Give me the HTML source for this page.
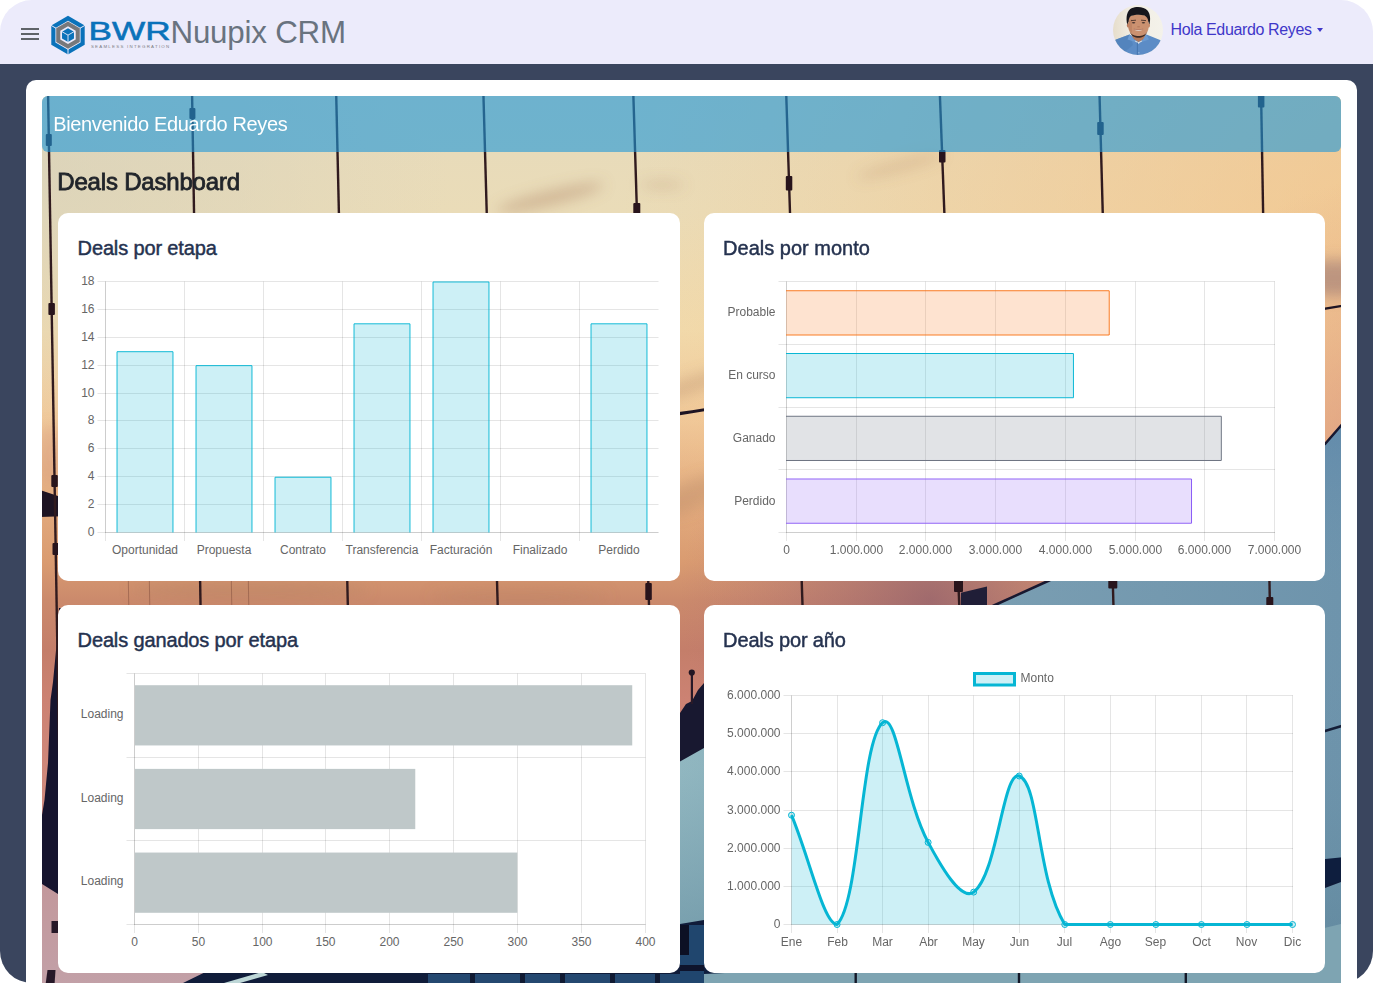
<!DOCTYPE html><html lang="es"><head><meta charset="utf-8"><title>Nuupix CRM</title><style>

*{box-sizing:border-box}
html,body{margin:0;padding:0;background:#fff}
body{width:1373px;height:983px;overflow:hidden;font-family:"Liberation Sans",Arial,sans-serif}
#app{position:absolute;left:0;top:0;width:1373px;height:983px;overflow:hidden;background:#fff}
#dark{position:absolute;left:0;top:40px;width:1373px;height:943px;border-radius:0 0 32px 32px;background:#3a455e}
#hdr{position:absolute;left:0;top:0;width:1373px;height:64px;background:#ecebfb;border-radius:32px 32px 0 0}
#menu{position:absolute;left:18px;top:22px;width:24px;height:24px}
#logo{position:absolute;left:44px;top:10px;width:140px;height:50px}
#brand{position:absolute;left:170.5px;top:8.7px;height:48px;line-height:48px;font-size:31.3px;color:#69737f;white-space:nowrap;letter-spacing:-0.2px}
#avatar{position:absolute;left:1113px;top:5px;width:50px;height:50px}
#user{position:absolute;left:1170.5px;top:20px;height:20px;line-height:20px;font-size:16px;color:#3f37c9;white-space:nowrap;letter-spacing:-0.36px}
#caret{position:absolute;left:1317px;top:27.6px;width:0;height:0;border-left:3.9px solid transparent;border-right:3.9px solid transparent;border-top:4.2px solid #3f37c9}
#wrap{position:absolute;left:26px;top:80px;width:1331px;height:960px;background:#fff;border-radius:10px}
#photo{position:absolute;left:16px;top:16px;width:1299px;height:900px;overflow:hidden;border-radius:6px 6px 0 0;background:#e9d9b4}
#photo svg.bg{position:absolute;left:-4px;top:-4px;filter:blur(.45px)}
#banner{position:absolute;left:0;top:0;width:1299px;height:56px;background:rgba(30,152,218,.6);border-radius:0 0 6px 6px}
#banner span{position:absolute;left:11.2px;top:14px;line-height:28px;font-size:20px;color:#fff;white-space:nowrap;letter-spacing:-0.34px}
#h1{position:absolute;left:15.3px;top:69.2px;line-height:34px;font-size:24px;color:#20242a;white-space:nowrap;-webkit-text-stroke:.8px #20242a;letter-spacing:-.19px}
.card{position:absolute;width:621.5px;height:368px;background:#fff;border-radius:10px}
.card h2{position:absolute;left:19.6px;top:22px;margin:0;line-height:26px;font-size:20px;font-weight:400;color:#25324f;white-space:nowrap;-webkit-text-stroke:.45px #25324f;letter-spacing:-.14px}
.card svg{position:absolute;left:0;top:0}
svg text{font-family:"Liberation Sans",Arial,sans-serif}

</style></head><body><div id="app"><div id="dark"></div>

<div id="hdr">
 <svg id="menu" viewBox="0 0 24 24"><path d="M3 6h18v2H3zM3 11h18v2H3zM3 16h18v2H3z" fill="#5f6368"/></svg>
 <svg id="logo" viewBox="0 0 140 50"><polygon points="24.00,5.85 40.71,15.50 40.71,34.80 24.00,44.45 7.29,34.80 7.29,15.50" fill="#0a72ba"/><polygon points="24.00,10.65 36.56,17.90 36.56,32.40 24.00,39.65 11.44,32.40 11.44,17.90" fill="#ecebfb"/><line x1="12.74" y1="18.65" x2="6.68" y2="15.15" stroke="#ecebfb" stroke-width="1"/><line x1="35.26" y1="18.65" x2="41.32" y2="15.15" stroke="#ecebfb" stroke-width="1"/><line x1="24.00" y1="38.15" x2="24.00" y2="45.15" stroke="#ecebfb" stroke-width="1"/><polygon points="24.00,11.55 35.78,18.35 35.78,31.95 24.00,38.75 12.22,31.95 12.22,18.35" fill="#77787b"/><polygon points="24.00,16.25 31.71,20.70 31.71,29.60 24.00,34.05 16.29,29.60 16.29,20.70" fill="#ecebfb"/><polygon points="24.00,18.25 29.98,21.70 29.98,28.60 24.00,32.05 18.02,28.60 18.02,21.70" fill="#0a72ba"/><line x1="24.00" y1="25.15" x2="17.85" y2="21.60" stroke="#ecebfb" stroke-width=".9"/><line x1="24.00" y1="25.15" x2="30.15" y2="21.60" stroke="#ecebfb" stroke-width=".9"/><line x1="24.00" y1="25.15" x2="24.00" y2="32.25" stroke="#ecebfb" stroke-width=".9"/><text x="44.6" y="30.1" font-size="26" textLength="82" lengthAdjust="spacingAndGlyphs" fill="#0a72ba" stroke="#0a72ba" stroke-width=".55" style="font-family:'Liberation Sans',Arial,sans-serif">BWR</text><text x="46.9" y="38.4" font-size="4.4" textLength="78.3" lengthAdjust="spacing" fill="#7d7e84" style="font-family:'Liberation Sans',Arial,sans-serif">SEAMLESS INTEGRATION</text></svg>
 <div id="brand">Nuupix CRM</div>
 <svg id="avatar" viewBox="0 0 50 50"><defs><clipPath id="avc"><circle cx="25" cy="25" r="25"/></clipPath><linearGradient id="avbg" x1="0" x2="1" y1="0" y2="0"><stop offset="0" stop-color="#e6ddcb"/><stop offset=".35" stop-color="#f1ede3"/><stop offset="1" stop-color="#f4f2ea"/></linearGradient><filter id="avb" x="-10%" y="-10%" width="120%" height="120%"><feGaussianBlur stdDeviation=".55"/></filter></defs><g clip-path="url(#avc)"><rect width="50" height="50" fill="url(#avbg)"/><g filter="url(#avb)"><path d="M-2,38 L3,34.5 L16.5,29.5 L25,35 L33.5,29.5 L47,35 L52,39 L52,52 L-2,52Z" fill="#5b8cc6"/><path d="M3,34.5 L16.5,29.5 L20,40 L8,50 L-2,52 L-2,38Z" fill="#4f7fb8" opacity=".6"/><path d="M18.5,26 L32.5,26 L32,33.5 L25.5,37 L19,33Z" fill="#b47a5c"/><path d="M21.5,35.3 L25.5,37.3 L29.5,35.3 L29,36.6 L25.5,38.3 L22,36.6Z" fill="#efeae2"/><path d="M16.5,29.5 L14.5,34.5 L22.5,37 L19,31Z" fill="#6c9bd2"/><path d="M33.5,29.5 L36,34.5 L28.5,37 L32,31Z" fill="#6c9bd2"/><path d="M24.4,37.5 L24.4,50" stroke="#3f6ea8" stroke-width=".8"/><circle cx="25.7" cy="38.3" r=".55" fill="#dfe8f2"/><circle cx="25.9" cy="47.8" r=".55" fill="#c8d8ea"/><ellipse cx="15.2" cy="20.3" rx="1.3" ry="2.4" fill="#b9795c"/><ellipse cx="35.7" cy="20.3" rx="1.3" ry="2.4" fill="#c58a6b"/><path d="M15.4,14 C15.4,8 35.6,8 35.6,14 L35.6,22 C35.6,28 30.5,32 25.5,32 C20.5,32 15.4,28 15.4,22Z" fill="#cb916f"/><path d="M15.4,16 L19,14 L19,28 C16.5,26 15.4,24 15.4,22Z" fill="#b87c5c" opacity=".55"/><path d="M16.6,26.5 C18.5,31.5 22,32.8 25.5,32.8 C29,32.8 32.5,31.5 34.4,26.5 C32.5,30 29,31 25.5,31 C22,31 18.5,30 16.6,26.5Z" fill="#3b2a26"/><path d="M14.2,19.5 C12.6,12 14,5.5 18.5,3.2 C24,0.8 31.5,1.8 34.5,5.5 C37.5,9 37.6,14.5 36.5,19.5 L35.3,16.5 C35,13.5 33.5,11.5 31.5,10.6 C27,9 22,9.6 18.5,10.8 C16.8,11.6 15.8,13.5 15.6,16.5Z" fill="#17171b"/><path d="M18,15.6 L23,15.2 M28,15.2 L33,15.6" stroke="#3a2a26" stroke-width=".8" fill="none"/><ellipse cx="20.6" cy="17.7" rx="1.7" ry=".8" fill="#4a3630"/><ellipse cx="30.4" cy="17.7" rx="1.7" ry=".8" fill="#4a3630"/><path d="M24.3,21.8 L26.8,21.8" stroke="#a86d52" stroke-width=".7"/><path d="M21.3,24.3 C23.5,25.2 27.5,25.2 29.7,24.3 C28.5,26.6 22.5,26.6 21.3,24.3Z" fill="#e6dcd6"/><path d="M20.8,24 C23.5,25 27.5,25 30.2,24" stroke="#9a5b4a" stroke-width=".5" fill="none"/></g></g></svg>
 <div id="user">Hola Eduardo Reyes</div><div id="caret"></div>
</div>
<div id="wrap"><div id="photo">
<svg class="bg" width="1307" height="895" viewBox="38 92 1307 895"><defs><linearGradient id="sky" gradientUnits="userSpaceOnUse" x1="0" y1="96" x2="0" y2="983"><stop offset="0.0000" stop-color="rgb(230,218,187)"/><stop offset="0.1319" stop-color="rgb(234,220,184)"/><stop offset="0.2638" stop-color="rgb(241,218,172)"/><stop offset="0.3653" stop-color="rgb(240,200,153)"/><stop offset="0.4216" stop-color="rgb(232,182,136)"/><stop offset="0.4780" stop-color="rgb(224,166,122)"/><stop offset="0.5231" stop-color="rgb(218,156,113)"/><stop offset="0.5682" stop-color="rgb(203,138,108)"/><stop offset="0.6246" stop-color="rgb(196,126,106)"/><stop offset="0.6809" stop-color="rgb(204,130,115)"/><stop offset="0.7937" stop-color="rgb(208,138,126)"/><stop offset="0.8952" stop-color="rgb(194,152,156)"/><stop offset="1.0000" stop-color="rgb(194,160,167)"/></linearGradient><radialGradient id="warm" gradientUnits="userSpaceOnUse" cx="1420" cy="250" r="800"><stop offset="0" stop-color="rgb(248,186,118)" stop-opacity=".6"/><stop offset=".5" stop-color="rgb(248,190,125)" stop-opacity=".35"/><stop offset="1" stop-color="rgb(248,196,130)" stop-opacity="0"/></radialGradient><radialGradient id="cool" gradientUnits="userSpaceOnUse" cx="30" cy="170" r="420" gradientTransform="translate(30,170) scale(1,.62) translate(-30,-170)"><stop offset="0" stop-color="rgb(212,207,186)" stop-opacity=".6"/><stop offset=".5" stop-color="rgb(216,210,188)" stop-opacity=".4"/><stop offset="1" stop-color="rgb(220,212,190)" stop-opacity="0"/></radialGradient><radialGradient id="pink" gradientUnits="userSpaceOnUse" cx="1420" cy="470" r="300"><stop offset="0" stop-color="rgb(205,135,128)" stop-opacity=".65"/><stop offset="1" stop-color="rgb(215,150,130)" stop-opacity="0"/></radialGradient><radialGradient id="pk2" gradientUnits="userSpaceOnUse" cx="930" cy="600" r="250"><stop offset="0" stop-color="rgb(140,90,108)" stop-opacity=".72"/><stop offset=".5" stop-color="rgb(160,100,112)" stop-opacity=".4"/><stop offset="1" stop-color="rgb(180,110,115)" stop-opacity="0"/></radialGradient><linearGradient id="teal" gradientUnits="userSpaceOnUse" x1="680" y1="0" x2="1341" y2="0"><stop offset="0" stop-color="rgb(150,188,196)"/><stop offset=".45" stop-color="rgb(122,158,178)"/><stop offset="1" stop-color="rgb(110,148,172)"/></linearGradient><linearGradient id="tealv" gradientUnits="userSpaceOnUse" x1="0" y1="430" x2="0" y2="983"><stop offset="0" stop-color="rgb(80,125,170)" stop-opacity=".35"/><stop offset=".3" stop-color="rgb(110,150,180)" stop-opacity="0"/><stop offset=".62" stop-color="rgb(100,140,160)" stop-opacity=".12"/><stop offset=".9" stop-color="rgb(92,132,152)" stop-opacity=".5"/><stop offset="1" stop-color="rgb(92,132,152)" stop-opacity=".5"/></linearGradient><filter id="bl6" x="-30%" y="-60%" width="160%" height="220%"><feGaussianBlur stdDeviation="7"/></filter><filter id="bl2"><feGaussianBlur stdDeviation="1.2"/></filter></defs><rect x="36" y="90" width="1311" height="899" fill="url(#sky)"/><rect x="36" y="90" width="1311" height="899" fill="url(#warm)"/><rect x="36" y="90" width="506" height="406" fill="url(#cool)"/><rect x="36" y="90" width="1311" height="899" fill="url(#pink)"/><rect x="660" y="340" width="540" height="520" fill="url(#pk2)"/><g filter="url(#bl6)" fill="rgb(170,125,95)"><ellipse cx="550" cy="198" rx="55" ry="7" opacity=".4" transform="rotate(-14 550 198)"/><ellipse cx="900" cy="166" rx="45" ry="5" opacity=".25" transform="rotate(-15 900 166)"/><ellipse cx="662" cy="185" rx="22" ry="3.5" opacity=".3"/><ellipse cx="692" cy="385" rx="40" ry="8" opacity=".3" transform="rotate(-20 692 385)"/><ellipse cx="692" cy="495" rx="40" ry="14" opacity=".3" transform="rotate(-25 692 495)"/><ellipse cx="1335" cy="278" rx="40" ry="18" opacity=".55" fill="rgb(150,115,115)"/><ellipse cx="250" cy="590" rx="120" ry="9" opacity=".3"/><ellipse cx="520" cy="597" rx="90" ry="7" opacity=".25"/><ellipse cx="50" cy="455" rx="14" ry="30" opacity=".25" fill="rgb(200,130,120)"/></g><path d="M640,782 L680,760.6 L704,747 L995,605 L1048,581 L1325,444 L1341,426 L1345,420 L1345,990 L640,990Z" fill="url(#teal)"/><path d="M640,782 L680,760.6 L704,747 L995,605 L1048,581 L1325,444 L1341,426 L1345,420 L1345,990 L640,990Z" fill="url(#tealv)"/><path d="M704,747 L995,605 L1048,581 L1325,444 L1345,421" fill="none" stroke="rgb(24,24,48)" stroke-width="2.5"/><path d="M640,735 L680,713 L686,704 L692,701 L698,690 L704,683 L720,672 L720,740 L704,748 L680,761.5 L640,783Z" fill="rgb(24,24,48)"/><rect x="690.8" y="674" width="2.2" height="30" fill="rgb(40,25,40)"/><circle cx="691.8" cy="672.6" r="3.1" fill="rgb(35,22,35)"/><path d="M961,592.7 L987,586.6 L987,612 L961,612Z" fill="rgb(32,30,55)"/><path d="M183,983 L230,960 L680,924 L704,920 L1325,865 L1341,858 L1345,857 L1345,881 L1341,882 L1325,888 L704,990 L183,990Z" fill="rgb(16,28,58)"/><path d="M704,920 L1345,857 L1345,881 L704,985Z" fill="rgb(14,30,62)"/><rect x="428" y="974" width="272" height="12" fill="rgb(36,72,112)"/><path d="M224,983 L262,972 L268,975 L240,983Z" fill="rgb(190,215,215)"/><rect x="470" y="970" width="5" height="14" fill="rgb(16,26,50)"/><rect x="520" y="970" width="5" height="14" fill="rgb(16,26,50)"/><rect x="560" y="970" width="5" height="14" fill="rgb(16,26,50)"/><rect x="610" y="970" width="5" height="14" fill="rgb(16,26,50)"/><rect x="655" y="970" width="5" height="14" fill="rgb(16,26,50)"/><rect x="680" y="925" width="24" height="58" fill="rgb(32,70,110)"/><rect x="680" y="925" width="9" height="30" fill="rgb(12,16,36)"/><rect x="680" y="965" width="24" height="6" fill="rgb(14,20,44)"/><path d="M704,990 L704,974 L1000,960 L1300,934 L1345,923 L1345,990Z" fill="rgb(126,164,178)"/><rect x="854.5" y="960" width="2.4" height="24" fill="rgb(20,24,40)"/><rect x="1017.8" y="960" width="2.4" height="24" fill="rgb(20,24,40)"/><rect x="1184.6" y="960" width="2.4" height="24" fill="rgb(20,24,40)"/><path d="M1100,800 L1325,731 L1345,725" stroke="rgb(20,30,55)" stroke-width="2.4" fill="none"/><path d="M59,608 L57,640 L53,682 L50.5,700 L48,763 L44.5,800 L42,815 L38,820 L38,882 L42,884 L58,894 L100,920 L100,608Z" fill="rgb(22,20,46)"/><path d="M40,490 L58,496 L70,492 L692,410.3 L1345,304.2 L1345,306.6 L692,413.2 L70,516 L40,517Z" fill="rgb(30,20,35)"/><line x1="48.0" y1="90" x2="62.6" y2="960" stroke="rgb(48,26,30)" stroke-width="2.4"/><line x1="192.0" y1="90" x2="206.4" y2="960" stroke="rgb(48,26,30)" stroke-width="2.4"/><line x1="336.1" y1="90" x2="355.9" y2="960" stroke="rgb(48,26,30)" stroke-width="2.4"/><line x1="483.3" y1="90" x2="507.6" y2="960" stroke="rgb(48,26,30)" stroke-width="2.4"/><line x1="633.2" y1="90" x2="659.9" y2="960" stroke="rgb(48,26,30)" stroke-width="2.4"/><line x1="786.1" y1="90" x2="813.8" y2="960" stroke="rgb(48,26,30)" stroke-width="2.4"/><line x1="939.7" y1="90" x2="972.7" y2="960" stroke="rgb(48,26,30)" stroke-width="2.4"/><line x1="1099.4" y1="90" x2="1123.1" y2="960" stroke="rgb(48,26,30)" stroke-width="2.4"/><line x1="1261.0" y1="90" x2="1276.0" y2="960" stroke="rgb(48,26,30)" stroke-width="2.4"/><rect x="45.8" y="134" width="6" height="12" rx="1" fill="rgb(40,20,28)"/><rect x="48.4" y="303" width="6.5" height="12" rx="1" fill="rgb(40,20,28)"/><rect x="51.3" y="475" width="6.5" height="12" rx="1" fill="rgb(40,20,28)"/><rect x="52.5" y="543" width="6.5" height="12" rx="1" fill="rgb(40,20,28)"/><rect x="189.4" y="108" width="6" height="11" rx="1" fill="rgb(40,20,28)"/><rect x="633.3" y="203" width="7" height="13" rx="1" fill="rgb(40,20,28)"/><rect x="785.8" y="176" width="6.5" height="14.5" rx="1" fill="rgb(40,20,28)"/><rect x="939.0" y="150" width="6.5" height="12.5" rx="1" fill="rgb(40,20,28)"/><rect x="1097.2" y="122" width="6.5" height="13" rx="1" fill="rgb(40,20,28)"/><rect x="1257.9" y="94" width="6.5" height="13.5" rx="1" fill="rgb(40,20,28)"/><rect x="645.3" y="583" width="6.5" height="17" rx="1" fill="rgb(40,20,28)"/><rect x="954.0" y="579" width="9" height="13" rx="1" fill="rgb(40,20,28)"/><rect x="1108.3" y="579" width="9" height="9.5" rx="1" fill="rgb(40,20,28)"/><rect x="1266.3" y="597" width="7" height="11" rx="1" fill="rgb(40,20,28)"/><rect x="51.5" y="921" width="8" height="12" fill="rgb(38,24,40)"/><path d="M47.5,970 L55.5,970 L54.5,985 L45.5,985Z" fill="rgb(38,24,40)"/><line x1="128" y1="560" x2="129" y2="620" stroke="rgb(120,70,55)" stroke-width="1" opacity=".45"/><line x1="149" y1="560" x2="150" y2="620" stroke="rgb(120,70,55)" stroke-width="1" opacity=".45"/><line x1="231" y1="560" x2="232" y2="620" stroke="rgb(120,70,55)" stroke-width="1" opacity=".45"/><line x1="248" y1="560" x2="249" y2="620" stroke="rgb(120,70,55)" stroke-width="1" opacity=".45"/></svg>
<div id="banner"><span>Bienvenido Eduardo Reyes</span></div>
<div id="h1">Deals Dashboard</div>
<div class="card" id="c1" style="left:16px;top:117px"><h2>Deals por etapa</h2><svg width="622" height="368" viewBox="0 0 622 368" style="left:0px;top:0px"><g transform="translate(-58,-213)"><rect x="105" y="281.5" width="1" height="259.5" fill="rgba(0,0,0,0.1)"/><rect x="184" y="281.5" width="1" height="259.5" fill="rgba(0,0,0,0.1)"/><rect x="263" y="281.5" width="1" height="259.5" fill="rgba(0,0,0,0.1)"/><rect x="342" y="281.5" width="1" height="259.5" fill="rgba(0,0,0,0.1)"/><rect x="421" y="281.5" width="1" height="259.5" fill="rgba(0,0,0,0.1)"/><rect x="500" y="281.5" width="1" height="259.5" fill="rgba(0,0,0,0.1)"/><rect x="579" y="281.5" width="1" height="259.5" fill="rgba(0,0,0,0.1)"/><rect x="105" y="281.5" width="1" height="251.5" fill="rgba(0,0,0,0.1)"/><rect x="105.5" y="532" width="553" height="1" fill="rgba(0,0,0,0.1)"/><rect x="97.5" y="532" width="561" height="1" fill="rgba(0,0,0,0.1)"/><text x="94.5" y="535.9" text-anchor="end" font-size="12" fill="#666">0</text><rect x="97.5" y="504" width="561" height="1" fill="rgba(0,0,0,0.1)"/><text x="94.5" y="507.9" text-anchor="end" font-size="12" fill="#666">2</text><rect x="97.5" y="476" width="561" height="1" fill="rgba(0,0,0,0.1)"/><text x="94.5" y="479.9" text-anchor="end" font-size="12" fill="#666">4</text><rect x="97.5" y="448" width="561" height="1" fill="rgba(0,0,0,0.1)"/><text x="94.5" y="451.9" text-anchor="end" font-size="12" fill="#666">6</text><rect x="97.5" y="420" width="561" height="1" fill="rgba(0,0,0,0.1)"/><text x="94.5" y="423.9" text-anchor="end" font-size="12" fill="#666">8</text><rect x="97.5" y="393" width="561" height="1" fill="rgba(0,0,0,0.1)"/><text x="94.5" y="396.9" text-anchor="end" font-size="12" fill="#666">10</text><rect x="97.5" y="365" width="561" height="1" fill="rgba(0,0,0,0.1)"/><text x="94.5" y="368.9" text-anchor="end" font-size="12" fill="#666">12</text><rect x="97.5" y="337" width="561" height="1" fill="rgba(0,0,0,0.1)"/><text x="94.5" y="340.9" text-anchor="end" font-size="12" fill="#666">14</text><rect x="97.5" y="309" width="561" height="1" fill="rgba(0,0,0,0.1)"/><text x="94.5" y="312.9" text-anchor="end" font-size="12" fill="#666">16</text><rect x="97.5" y="281" width="561" height="1" fill="rgba(0,0,0,0.1)"/><text x="94.5" y="284.9" text-anchor="end" font-size="12" fill="#666">18</text><text x="145" y="553.8" text-anchor="middle" font-size="12" fill="#666">Oportunidad</text><rect x="117.56" y="352.22" width="54.88" height="180.28" fill="rgba(6,182,212,0.2)"/><path d="M117.06,532.5V351.72H172.94V532.5" fill="none" stroke="rgb(6,182,212)" stroke-width="1"/><text x="224" y="553.8" text-anchor="middle" font-size="12" fill="#666">Propuesta</text><rect x="196.56" y="366.17" width="54.88" height="166.33" fill="rgba(6,182,212,0.2)"/><path d="M196.06,532.5V365.67H251.94V532.5" fill="none" stroke="rgb(6,182,212)" stroke-width="1"/><text x="303" y="553.8" text-anchor="middle" font-size="12" fill="#666">Contrato</text><rect x="275.56" y="477.72" width="54.88" height="54.78" fill="rgba(6,182,212,0.2)"/><path d="M275.06,532.5V477.22H330.94V532.5" fill="none" stroke="rgb(6,182,212)" stroke-width="1"/><text x="382" y="553.8" text-anchor="middle" font-size="12" fill="#666">Transferencia</text><rect x="354.56" y="324.33" width="54.88" height="208.17" fill="rgba(6,182,212,0.2)"/><path d="M354.06,532.5V323.83H409.94V532.5" fill="none" stroke="rgb(6,182,212)" stroke-width="1"/><text x="461" y="553.8" text-anchor="middle" font-size="12" fill="#666">Facturación</text><rect x="433.56" y="282.5" width="54.88" height="250" fill="rgba(6,182,212,0.2)"/><path d="M433.06,532.5V282H488.94V532.5" fill="none" stroke="rgb(6,182,212)" stroke-width="1"/><text x="540" y="553.8" text-anchor="middle" font-size="12" fill="#666">Finalizado</text><text x="619" y="553.8" text-anchor="middle" font-size="12" fill="#666">Perdido</text><rect x="591.56" y="324.33" width="54.88" height="208.17" fill="rgba(6,182,212,0.2)"/><path d="M591.06,532.5V323.83H646.94V532.5" fill="none" stroke="rgb(6,182,212)" stroke-width="1"/></g></svg></div>

<div class="card" id="c2" style="left:661.5px;top:117px"><h2 style="letter-spacing:0">Deals por monto</h2><svg width="622" height="368" viewBox="0 0 622 368" style="left:0.5px;top:0px"><g transform="translate(-704,-213)"><rect x="786" y="281.5" width="1" height="259.5" fill="rgba(0,0,0,0.1)"/><text x="786.5" y="553.8" text-anchor="middle" font-size="12" fill="#666">0</text><rect x="856" y="281.5" width="1" height="259.5" fill="rgba(0,0,0,0.1)"/><text x="856.5" y="553.8" text-anchor="middle" font-size="12" fill="#666">1.000.000</text><rect x="925" y="281.5" width="1" height="259.5" fill="rgba(0,0,0,0.1)"/><text x="925.5" y="553.8" text-anchor="middle" font-size="12" fill="#666">2.000.000</text><rect x="995" y="281.5" width="1" height="259.5" fill="rgba(0,0,0,0.1)"/><text x="995.5" y="553.8" text-anchor="middle" font-size="12" fill="#666">3.000.000</text><rect x="1065" y="281.5" width="1" height="259.5" fill="rgba(0,0,0,0.1)"/><text x="1065.5" y="553.8" text-anchor="middle" font-size="12" fill="#666">4.000.000</text><rect x="1135" y="281.5" width="1" height="259.5" fill="rgba(0,0,0,0.1)"/><text x="1135.5" y="553.8" text-anchor="middle" font-size="12" fill="#666">5.000.000</text><rect x="1204" y="281.5" width="1" height="259.5" fill="rgba(0,0,0,0.1)"/><text x="1204.5" y="553.8" text-anchor="middle" font-size="12" fill="#666">6.000.000</text><rect x="1274" y="281.5" width="1" height="259.5" fill="rgba(0,0,0,0.1)"/><text x="1274.5" y="553.8" text-anchor="middle" font-size="12" fill="#666">7.000.000</text><rect x="778.5" y="281" width="496.5" height="1" fill="rgba(0,0,0,0.1)"/><rect x="778.5" y="344" width="496.5" height="1" fill="rgba(0,0,0,0.1)"/><rect x="778.5" y="407" width="496.5" height="1" fill="rgba(0,0,0,0.1)"/><rect x="778.5" y="469" width="496.5" height="1" fill="rgba(0,0,0,0.1)"/><rect x="778.5" y="532" width="496.5" height="1" fill="rgba(0,0,0,0.1)"/><rect x="786" y="281.5" width="1" height="251.5" fill="rgba(0,0,0,0.1)"/><rect x="786.5" y="532" width="488.5" height="1" fill="rgba(0,0,0,0.1)"/><text x="775.5" y="316.27" text-anchor="end" font-size="12" fill="#666">Probable</text><rect x="786" y="291.28" width="322.7" height="43.18" fill="rgba(249,115,22,0.2)"/><path d="M786,290.78H1109.2V334.97H786" fill="none" stroke="rgb(249,115,22)" stroke-width="1"/><text x="775.5" y="379.02" text-anchor="end" font-size="12" fill="#666">En curso</text><rect x="786" y="354.03" width="286.93" height="43.18" fill="rgba(6,182,212,0.2)"/><path d="M786,353.53H1073.43V397.72H786" fill="none" stroke="rgb(6,182,212)" stroke-width="1"/><text x="775.5" y="441.77" text-anchor="end" font-size="12" fill="#666">Ganado</text><rect x="786" y="416.78" width="434.8" height="43.18" fill="rgba(107,114,128,0.2)"/><path d="M786,416.28H1221.3V460.47H786" fill="none" stroke="rgb(107,114,128)" stroke-width="1"/><text x="775.5" y="504.52" text-anchor="end" font-size="12" fill="#666">Perdido</text><rect x="786" y="479.53" width="405.03" height="43.18" fill="rgba(139,92,246,0.2)"/><path d="M786,479.03H1191.53V523.22H786" fill="none" stroke="rgb(139,92,246)" stroke-width="1"/></g></svg></div>

<div class="card" id="c3" style="left:16px;top:509px"><h2>Deals ganados por etapa</h2><svg width="622" height="368" viewBox="0 0 622 368" style="left:0px;top:0px"><g transform="translate(-58,-605)"><rect x="134" y="673.5" width="1" height="259.5" fill="rgba(0,0,0,0.1)"/><text x="134.5" y="945.8" text-anchor="middle" font-size="12" fill="#666">0</text><rect x="198" y="673.5" width="1" height="259.5" fill="rgba(0,0,0,0.1)"/><text x="198.5" y="945.8" text-anchor="middle" font-size="12" fill="#666">50</text><rect x="262" y="673.5" width="1" height="259.5" fill="rgba(0,0,0,0.1)"/><text x="262.5" y="945.8" text-anchor="middle" font-size="12" fill="#666">100</text><rect x="325" y="673.5" width="1" height="259.5" fill="rgba(0,0,0,0.1)"/><text x="325.5" y="945.8" text-anchor="middle" font-size="12" fill="#666">150</text><rect x="389" y="673.5" width="1" height="259.5" fill="rgba(0,0,0,0.1)"/><text x="389.5" y="945.8" text-anchor="middle" font-size="12" fill="#666">200</text><rect x="453" y="673.5" width="1" height="259.5" fill="rgba(0,0,0,0.1)"/><text x="453.5" y="945.8" text-anchor="middle" font-size="12" fill="#666">250</text><rect x="517" y="673.5" width="1" height="259.5" fill="rgba(0,0,0,0.1)"/><text x="517.5" y="945.8" text-anchor="middle" font-size="12" fill="#666">300</text><rect x="581" y="673.5" width="1" height="259.5" fill="rgba(0,0,0,0.1)"/><text x="581.5" y="945.8" text-anchor="middle" font-size="12" fill="#666">350</text><rect x="645" y="673.5" width="1" height="259.5" fill="rgba(0,0,0,0.1)"/><text x="645.5" y="945.8" text-anchor="middle" font-size="12" fill="#666">400</text><rect x="126.5" y="673" width="519" height="1" fill="rgba(0,0,0,0.1)"/><rect x="126.5" y="757" width="519" height="1" fill="rgba(0,0,0,0.1)"/><rect x="126.5" y="840" width="519" height="1" fill="rgba(0,0,0,0.1)"/><rect x="126.5" y="924" width="519" height="1" fill="rgba(0,0,0,0.1)"/><rect x="134" y="673.5" width="1" height="251.5" fill="rgba(0,0,0,0.1)"/><rect x="134.5" y="924" width="511" height="1" fill="rgba(0,0,0,0.1)"/><text x="123.5" y="717.93" text-anchor="end" font-size="12" fill="#666">Loading</text><rect x="135" y="685.21" width="497.24" height="60.24" fill="#bfc8c9"/><text x="123.5" y="801.6" text-anchor="end" font-size="12" fill="#666">Loading</text><rect x="135" y="768.88" width="280.27" height="60.24" fill="#bfc8c9"/><text x="123.5" y="885.27" text-anchor="end" font-size="12" fill="#666">Loading</text><rect x="135" y="852.55" width="382.38" height="60.24" fill="#bfc8c9"/></g></svg></div>

<div class="card" id="c4" style="left:661.5px;top:509px"><h2>Deals por año</h2><svg width="622" height="368" viewBox="0 0 622 368" style="left:0.5px;top:0px"><g transform="translate(-704,-605)"><rect x="791" y="695.5" width="1" height="237.5" fill="rgba(0,0,0,0.1)"/><text x="791.5" y="945.8" text-anchor="middle" font-size="12" fill="#666">Ene</text><rect x="837" y="695.5" width="1" height="237.5" fill="rgba(0,0,0,0.1)"/><text x="837.5" y="945.8" text-anchor="middle" font-size="12" fill="#666">Feb</text><rect x="882" y="695.5" width="1" height="237.5" fill="rgba(0,0,0,0.1)"/><text x="882.5" y="945.8" text-anchor="middle" font-size="12" fill="#666">Mar</text><rect x="928" y="695.5" width="1" height="237.5" fill="rgba(0,0,0,0.1)"/><text x="928.5" y="945.8" text-anchor="middle" font-size="12" fill="#666">Abr</text><rect x="973" y="695.5" width="1" height="237.5" fill="rgba(0,0,0,0.1)"/><text x="973.5" y="945.8" text-anchor="middle" font-size="12" fill="#666">May</text><rect x="1019" y="695.5" width="1" height="237.5" fill="rgba(0,0,0,0.1)"/><text x="1019.5" y="945.8" text-anchor="middle" font-size="12" fill="#666">Jun</text><rect x="1064" y="695.5" width="1" height="237.5" fill="rgba(0,0,0,0.1)"/><text x="1064.5" y="945.8" text-anchor="middle" font-size="12" fill="#666">Jul</text><rect x="1110" y="695.5" width="1" height="237.5" fill="rgba(0,0,0,0.1)"/><text x="1110.5" y="945.8" text-anchor="middle" font-size="12" fill="#666">Ago</text><rect x="1155" y="695.5" width="1" height="237.5" fill="rgba(0,0,0,0.1)"/><text x="1155.5" y="945.8" text-anchor="middle" font-size="12" fill="#666">Sep</text><rect x="1201" y="695.5" width="1" height="237.5" fill="rgba(0,0,0,0.1)"/><text x="1201.5" y="945.8" text-anchor="middle" font-size="12" fill="#666">Oct</text><rect x="1246" y="695.5" width="1" height="237.5" fill="rgba(0,0,0,0.1)"/><text x="1246.5" y="945.8" text-anchor="middle" font-size="12" fill="#666">Nov</text><rect x="1292" y="695.5" width="1" height="237.5" fill="rgba(0,0,0,0.1)"/><text x="1292.5" y="945.8" text-anchor="middle" font-size="12" fill="#666">Dic</text><rect x="783.5" y="924" width="509.5" height="1" fill="rgba(0,0,0,0.1)"/><text x="780.5" y="927.9" text-anchor="end" font-size="12" fill="#666">0</text><rect x="783.5" y="886" width="509.5" height="1" fill="rgba(0,0,0,0.1)"/><text x="780.5" y="889.9" text-anchor="end" font-size="12" fill="#666">1.000.000</text><rect x="783.5" y="848" width="509.5" height="1" fill="rgba(0,0,0,0.1)"/><text x="780.5" y="851.9" text-anchor="end" font-size="12" fill="#666">2.000.000</text><rect x="783.5" y="810" width="509.5" height="1" fill="rgba(0,0,0,0.1)"/><text x="780.5" y="813.9" text-anchor="end" font-size="12" fill="#666">3.000.000</text><rect x="783.5" y="771" width="509.5" height="1" fill="rgba(0,0,0,0.1)"/><text x="780.5" y="774.9" text-anchor="end" font-size="12" fill="#666">4.000.000</text><rect x="783.5" y="733" width="509.5" height="1" fill="rgba(0,0,0,0.1)"/><text x="780.5" y="736.9" text-anchor="end" font-size="12" fill="#666">5.000.000</text><rect x="783.5" y="695" width="509.5" height="1" fill="rgba(0,0,0,0.1)"/><text x="780.5" y="698.9" text-anchor="end" font-size="12" fill="#666">6.000.000</text><rect x="791" y="695.5" width="1" height="229.5" fill="rgba(0,0,0,0.1)"/><rect x="791.5" y="924" width="501.5" height="1" fill="rgba(0,0,0,0.1)"/><path d="M791.5,815.2C809.72,858.92 823.78,924.5 837.05,924.5C860.22,900.97 860.09,742.98 882.59,722.7C896.52,710.14 904.27,798.01 928.14,842.4C940.7,865.77 960.9,901.42 973.68,892.1C997.33,874.86 1003,770.23 1019.23,776C1039.44,783.19 1036.6,878.57 1064.77,924.5C1073.03,924.5 1092.1,924.5 1110.32,924.5C1128.54,924.5 1137.65,924.5 1155.86,924.5C1174.08,924.5 1183.19,924.5 1201.41,924.5C1219.63,924.5 1228.74,924.5 1246.95,924.5C1265.17,924.5 1274.28,924.5 1292.5,924.5L1292.5,924.5L791.5,924.5Z" fill="rgba(6,182,212,0.2)"/><path d="M791.5,815.2C809.72,858.92 823.78,924.5 837.05,924.5C860.22,900.97 860.09,742.98 882.59,722.7C896.52,710.14 904.27,798.01 928.14,842.4C940.7,865.77 960.9,901.42 973.68,892.1C997.33,874.86 1003,770.23 1019.23,776C1039.44,783.19 1036.6,878.57 1064.77,924.5C1073.03,924.5 1092.1,924.5 1110.32,924.5C1128.54,924.5 1137.65,924.5 1155.86,924.5C1174.08,924.5 1183.19,924.5 1201.41,924.5C1219.63,924.5 1228.74,924.5 1246.95,924.5C1265.17,924.5 1274.28,924.5 1292.5,924.5" fill="none" stroke="rgb(6,182,212)" stroke-width="3" stroke-linejoin="round"/><circle cx="791.5" cy="815.2" r="3" fill="rgba(6,182,212,0.2)" stroke="rgb(6,182,212)" stroke-width="1"/><circle cx="837.05" cy="924.5" r="3" fill="rgba(6,182,212,0.2)" stroke="rgb(6,182,212)" stroke-width="1"/><circle cx="882.59" cy="722.7" r="3" fill="rgba(6,182,212,0.2)" stroke="rgb(6,182,212)" stroke-width="1"/><circle cx="928.14" cy="842.4" r="3" fill="rgba(6,182,212,0.2)" stroke="rgb(6,182,212)" stroke-width="1"/><circle cx="973.68" cy="892.1" r="3" fill="rgba(6,182,212,0.2)" stroke="rgb(6,182,212)" stroke-width="1"/><circle cx="1019.23" cy="776" r="3" fill="rgba(6,182,212,0.2)" stroke="rgb(6,182,212)" stroke-width="1"/><circle cx="1064.77" cy="924.5" r="3" fill="rgba(6,182,212,0.2)" stroke="rgb(6,182,212)" stroke-width="1"/><circle cx="1110.32" cy="924.5" r="3" fill="rgba(6,182,212,0.2)" stroke="rgb(6,182,212)" stroke-width="1"/><circle cx="1155.86" cy="924.5" r="3" fill="rgba(6,182,212,0.2)" stroke="rgb(6,182,212)" stroke-width="1"/><circle cx="1201.41" cy="924.5" r="3" fill="rgba(6,182,212,0.2)" stroke="rgb(6,182,212)" stroke-width="1"/><circle cx="1246.95" cy="924.5" r="3" fill="rgba(6,182,212,0.2)" stroke="rgb(6,182,212)" stroke-width="1"/><circle cx="1292.5" cy="924.5" r="3" fill="rgba(6,182,212,0.2)" stroke="rgb(6,182,212)" stroke-width="1"/><rect x="974.5" y="673.5" width="40" height="11.5" fill="rgba(6,182,212,0.2)" stroke="rgb(6,182,212)" stroke-width="3"/><text x="1020.5" y="681.8" text-anchor="start" font-size="12" fill="#666">Monto</text></g></svg></div>

</div></div></div></body></html>
